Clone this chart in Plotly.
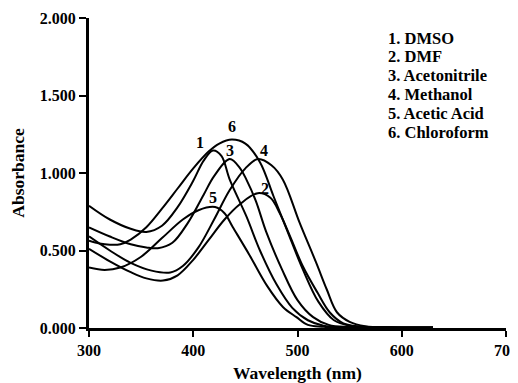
import plotly.graph_objects as go

# ---- data ----
solvents = ["DMSO", "DMF", "Acetonitrile", "Methanol", "Acetic Acid", "Chloroform"]

wl_1 = [300, 320, 340, 355, 370, 385, 400, 410, 419, 427, 435, 451, 464, 480, 495, 510, 525, 545, 630]
ab_1 = [0.789, 0.70, 0.64, 0.62, 0.66, 0.78, 0.95, 1.08, 1.145, 1.11, 0.957, 0.72, 0.50, 0.28, 0.13, 0.05, 0.015, 0.005, 0.002]

wl_2 = [300, 320, 340, 355, 371, 385, 400, 415, 430, 445, 462, 474, 483, 493, 505, 519, 531, 544, 560, 590, 630]
ab_2 = [0.511, 0.43, 0.36, 0.32, 0.306, 0.34, 0.44, 0.57, 0.70, 0.80, 0.87, 0.84, 0.74, 0.59, 0.40, 0.23, 0.10, 0.03, 0.01, 0.005, 0.003]

wl_3 = [300, 320, 340, 355, 366, 380, 395, 410, 420, 435, 445, 451, 460, 470, 485, 500, 515, 530, 550, 630]
ab_3 = [0.649, 0.59, 0.54, 0.52, 0.515, 0.55, 0.68, 0.86, 0.98, 1.09, 1.03, 0.957, 0.82, 0.62, 0.38, 0.18, 0.07, 0.02, 0.006, 0.002]

wl_4 = [300, 320, 340, 360, 378, 390, 405, 420, 435, 450, 462, 475, 486, 502, 518, 528, 538, 550, 565, 590, 630]
ab_4 = [0.591, 0.50, 0.42, 0.37, 0.358, 0.40, 0.52, 0.70, 0.89, 1.03, 1.09, 1.05, 0.957, 0.68, 0.42, 0.25, 0.10, 0.04, 0.012, 0.005, 0.003]

wl_5 = [300, 315, 330, 350, 370, 390, 405, 421, 430, 438, 454, 471, 486, 499, 510, 525, 630]
ab_5 = [0.39, 0.375, 0.39, 0.46, 0.58, 0.70, 0.76, 0.78, 0.74, 0.65, 0.47, 0.27, 0.136, 0.07, 0.02, 0.008, 0.002]

wl_6 = [300, 310, 320, 330, 340, 355, 370, 385, 400, 415, 425, 437, 450, 464, 477, 490, 505, 520, 535, 550, 570, 630]
ab_6 = [0.563, 0.545, 0.537, 0.54, 0.57, 0.65, 0.77, 0.90, 1.03, 1.14, 1.19, 1.216, 1.19, 1.07, 0.85, 0.63, 0.38, 0.17, 0.05, 0.015, 0.006, 0.003]

curve_numbers = ["1", "2", "3", "4", "5", "6"]
label_wl = [406.4, 469.0, 435.2, 468.0, 418.9, 436.8]
label_ab = [1.195, 0.898, 1.145, 1.145, 0.84, 1.299]

x_ticks = [300, 400, 500, 600, 700]
y_ticks = [0.0, 0.5, 1.0, 1.5, 2.0]

series = [(wl_1, ab_1), (wl_2, ab_2), (wl_3, ab_3), (wl_4, ab_4), (wl_5, ab_5), (wl_6, ab_6)]

FONT = "'Liberation Serif', serif"

# page body has an 8px margin: compensate so the plot area lands where the reference has it
OFF = 8
L, T = 89 - OFF, 18 - OFF
PW, PH = 417, 310
W, H = 518, 383
R = W - L - PW
B = H - T - PH

fig = go.Figure()
for (wl, ab), name in zip(series, solvents):
    fig.add_trace(go.Scatter(
        x=wl, y=ab, mode="lines", name=name,
        line=dict(color="black", width=2, shape="spline", smoothing=1.0),
        showlegend=False, cliponaxis=True,
    ))

for num, lx, ly in zip(curve_numbers, label_wl, label_ab):
    fig.add_annotation(x=lx, y=ly, text="<b>" + num + "</b>", showarrow=False,
                       font=dict(family=FONT, size=16, color="black"))

legend_labels = [f"{n}. {s}" for n, s in zip(curve_numbers, solvents)]
for i, lab in enumerate(legend_labels):
    py = 38 + i * 18.8
    fig.add_annotation(xref="paper", yref="paper",
                       x=(386 - 89) / PW, y=(328 - py) / PH,
                       xanchor="left", yanchor="middle", text="<b>" + lab + "</b>", showarrow=False,
                       font=dict(family=FONT, size=16.5, color="black"))

fig.update_layout(
    width=W, height=H,
    margin=dict(l=L, r=R, t=T, b=B, autoexpand=False),
    paper_bgcolor="white", plot_bgcolor="white",
    font=dict(family=FONT, color="black"),
)
fig.update_xaxes(
    range=[300, 700], tickvals=x_ticks, ticktext=[f"<b>{v}</b>" for v in x_ticks],
    showline=True, linecolor="black", linewidth=3, showgrid=False, zeroline=False,
    ticks="outside", ticklen=6, tickwidth=2, tickcolor="black", automargin=False,
    tickfont=dict(family=FONT, size=16, color="black"),
    title=dict(text="<b>Wavelength (nm)</b>", font=dict(family=FONT, size=17.5, color="black"), standoff=9),
)
fig.update_yaxes(
    range=[0, 2], tickvals=y_ticks, ticktext=[f"<b>{v:.3f}</b>" for v in y_ticks],
    showline=True, linecolor="black", linewidth=3, showgrid=False, zeroline=False,
    ticks="outside", ticklen=7, tickwidth=2, tickcolor="black", automargin=False,
    tickfont=dict(family=FONT, size=16, color="black"),
    title=dict(text="<b>Absorbance</b>", font=dict(family=FONT, size=17.5, color="black"), standoff=12),
)

fig.write_html("out.html")
